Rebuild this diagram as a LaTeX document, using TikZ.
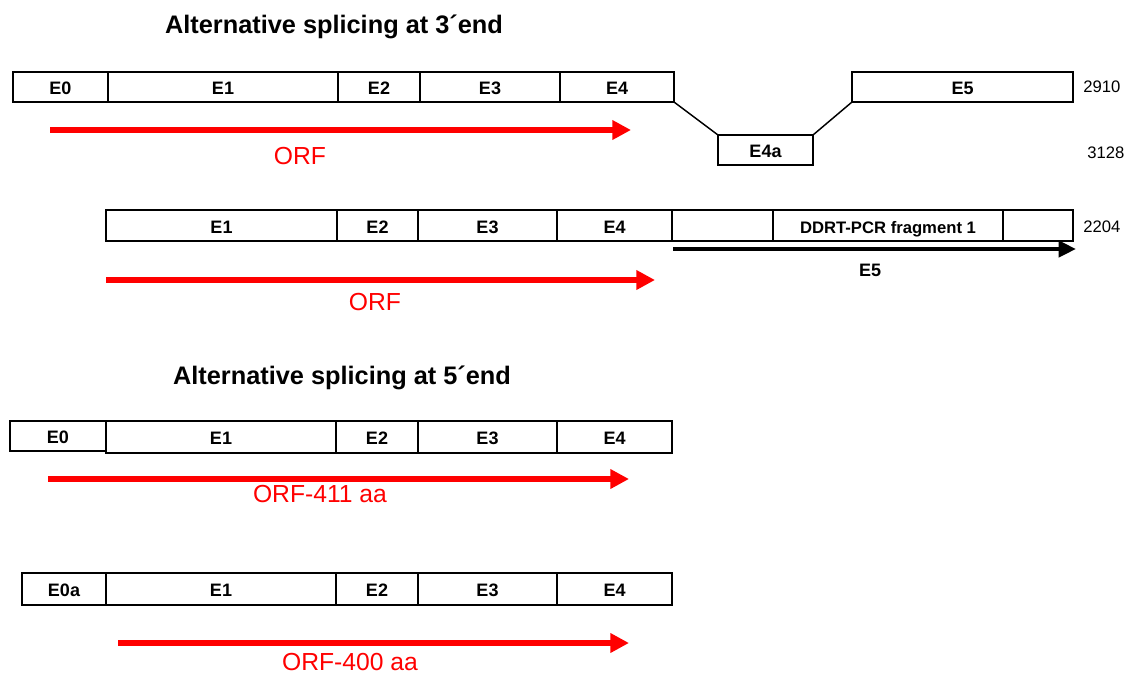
\documentclass[tikz,border=0pt]{standalone}
\usepackage{fontspec}
\setmainfont{Liberation Sans}
\usetikzlibrary{arrows.meta}
\definecolor{orfred}{RGB}{255,0,0}
\tikzset{
  exon/.style={draw, line width=1.1pt, inner sep=0pt, outer sep=0pt, text height=11.5pt, text depth=0pt, font=\bfseries\fontsize{13.5}{15}\selectfont},
  orf/.style={draw=orfred, line width=4.8pt, -{Triangle[length=14pt,width=14pt]}},
  orflabel/.style={text=orfred, font=\fontsize{18.5}{21}\selectfont},
  title/.style={font=\bfseries\fontsize{19}{22}\selectfont},
  num/.style={font=\fontsize{12.5}{14}\selectfont},
  link/.style={line width=1.1pt},
  blk/.style={line width=3pt, -{Triangle[length=13pt,width=12pt]}}
}
\newcommand\ex[6]{\node[exon, minimum width={(#3-#2)*0.75pt}, minimum height={(#5-#4)*0.75pt}, anchor=north west] (#1) at (#2,#4) {#6};}
\begin{document}
\begin{tikzpicture}[x=0.75pt,y=-0.75pt]
\useasboundingbox (0,0) rectangle (1127,675);
% Title 1
\node[title] (t1) at (334,27) {Alternative splicing at 3´end};
% Row 1
\ex{ra0}{13}{108}{72}{102}{E0}
\ex{ra1}{108}{338}{72}{102}{E1}
\ex{ra2}{338}{420}{72}{102}{E2}
\ex{ra3}{420}{560}{72}{102}{E3}
\ex{ra4}{560}{674}{72}{102}{E4}
\ex{ra5}{852}{1073}{72}{102}{E5}
\ex{ra4a}{718}{813}{135}{165}{E4a}
\draw[link] (ra4.south east) -- (ra4a.north west);
\draw[link] (ra4a.north east) -- (ra5.south west);
\node[num, anchor=west, inner sep=0pt] (n1) at (1083,87) {2910};
\node[num, anchor=west, inner sep=0pt] (n2) at (1087,153) {3128};
\coordinate (o1s) at (50,130);
\coordinate (o1e) at (631,130);
\draw[orf] (o1s) -- (o1e);
\node[orflabel] (l1) at (300,156) {ORF};
% Row 2
\ex{rb1}{106}{337}{210}{241}{E1}
\ex{rb2}{337}{418}{210}{241}{E2}
\ex{rb3}{418}{557}{210}{241}{E3}
\ex{rb4}{557}{672}{210}{241}{E4}
\ex{rb5}{672}{773}{210}{241}{}
\ex{rb6}{773}{1003}{210}{241}{\fontsize{12.5}{14}\selectfont DDRT-PCR fragment 1}
\ex{rb7}{1003}{1073}{210}{241}{}
\node[num, anchor=west, inner sep=0pt] (n3) at (1083,227) {2204};
\coordinate (bs) at (673,249);
\coordinate (be) at (1076,249);
\draw[blk] (bs) -- (be);
\node[font=\bfseries\fontsize{13.5}{15}\selectfont] (e5l) at (870,270) {E5};
\coordinate (o2s) at (106,280);
\coordinate (o2e) at (655,280);
\draw[orf] (o2s) -- (o2e);
\node[orflabel] (l2) at (375,302) {ORF};
% Title 2
\node[title] (t2) at (342,378) {Alternative splicing at 5´end};
% Row 3
\ex{rc0}{10}{106}{421}{451}{E0}
\ex{rc1}{106}{336}{421}{453}{E1}
\ex{rc2}{336}{418}{421}{453}{E2}
\ex{rc3}{418}{557}{421}{453}{E3}
\ex{rc4}{557}{672}{421}{453}{E4}
\coordinate (o3s) at (48,479);
\coordinate (o3e) at (629,479);
\draw[orf] (o3s) -- (o3e);
\node[orflabel] (l3) at (320,494) {ORF-411 aa};
% Row 4
\ex{rd0}{22}{106}{573}{605}{E0a}
\ex{rd1}{106}{336}{573}{605}{E1}
\ex{rd2}{336}{418}{573}{605}{E2}
\ex{rd3}{418}{557}{573}{605}{E3}
\ex{rd4}{557}{672}{573}{605}{E4}
\coordinate (o4s) at (118,643);
\coordinate (o4e) at (629,643);
\node[orflabel, anchor=base, inner sep=0pt] (l4) at (350,670) {ORF-400 aa};
\draw[orf] (o4s) -- (o4e);
\end{tikzpicture}
\end{document}
